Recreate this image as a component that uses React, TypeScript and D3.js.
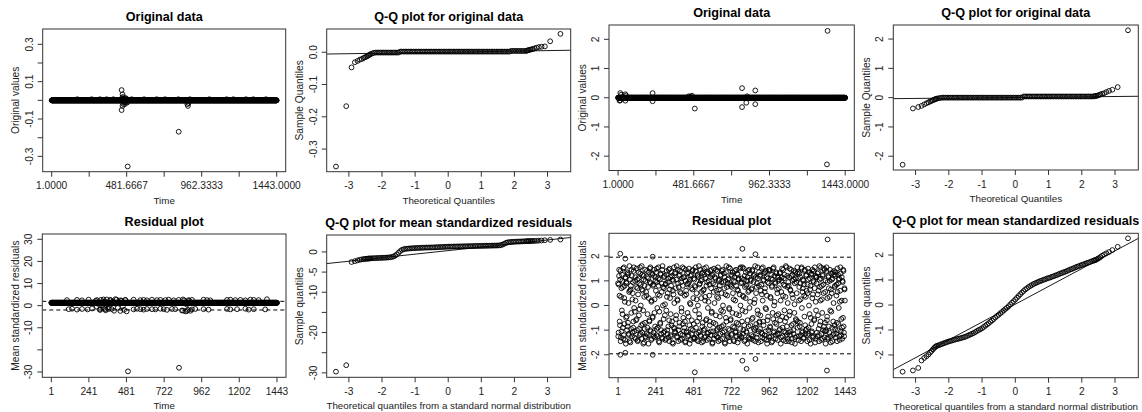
import React, { useEffect, useRef } from 'react'
import * as d3 from 'd3'

// ---- shared axes ----
const timeIndex = d3.range(1, 1444) // observations 1..1443
const origTicks = [1, 241.3333, 481.6667, 722, 962.3333, 1202.6667, 1443]
const origTickLabels = ['1.0000', '', '481.6667', '', '962.3333', '', '1443.0000']
const residTicks = [1, 241, 481, 722, 962, 1202, 1443]
const residTickLabels = ['1', '241', '481', '722', '962', '1202', '1443']
const qqTicks = [-3, -2, -1, 0, 1, 2, 3]

// theoretical normal quantiles used on every Q-Q plot (tails, then the dense middle)
const qqTheo = [
  -3.39, -3.08, -2.92, -2.82, -2.74, -2.67, -2.61, -2.56, -2.52, -2.48, -2.44, -2.41, -2.38,
  -2.35, -2.3, -2.25, -2.2, -2.15, -2.1, -2.05, -2, -1.95, -1.9, -1.85, -1.8, -1.75, -1.7, -1.65, -1.6,
  -1.55, -1.5, -1.45, -1.4, -1.35, -1.3, -1.25, -1.2, -1.15, -1.1, -1.05, -1, -0.95, -0.9, -0.85, -0.8,
  -0.75, -0.7, -0.65, -0.6, -0.55, -0.5, -0.45, -0.4, -0.35, -0.3, -0.25, -0.2, -0.15, -0.1, -0.05, 0,
  0.05, 0.1, 0.15, 0.2, 0.25, 0.3, 0.35, 0.4, 0.45, 0.5, 0.55, 0.6, 0.65, 0.7, 0.75, 0.8, 0.85, 0.9,
  0.95, 1, 1.05, 1.1, 1.15, 1.2, 1.25, 1.3, 1.35, 1.4, 1.45, 1.5, 1.55, 1.6, 1.65, 1.7, 1.75, 1.8,
  1.85, 1.9, 1.95, 2, 2.05, 2.1, 2.15, 2.2, 2.25, 2.3, 2.35,
  2.38, 2.41, 2.44, 2.48, 2.52, 2.56, 2.61, 2.67, 2.74, 2.82, 2.92, 3.08, 3.39,
]

// ---- series 1 (left figure) ----
const orig1Level = 0
const orig1ExtraT = [449, 449, 452, 455, 455, 458, 460, 462, 466, 470, 475, 478, 481, 485, 488, 815, 870, 874, 878,
  165, 257, 310, 353, 396, 514, 593, 674, 727, 812, 887, 1011, 1122, 1165, 1246, 1293, 1374]
const orig1ExtraV = [0.055, -0.052, 0.012, 0.032, -0.03, 0.018, -0.02, 0.01, -0.01, -0.02, 0.012, -0.008, 0.008, -0.012, -0.354, -0.168, -0.02, -0.03, -0.015,
  0.006, 0.006, 0.006, 0.006, 0.006, 0.006, 0.006, 0.006, 0.006, 0.006, 0.006, 0.006, 0.006, 0.006, 0.006, 0.006, 0.006]

const qq1Sample = [
  -0.354, -0.167, -0.047, -0.031, -0.027, -0.023, -0.021, -0.018, -0.016, -0.014, -0.012, -0.01, -0.008,
  -0.006, -0.004, -0.002,
  -0.001, -0.001, -0.001, -0.001, -0.001, -0.001, -0.001, -0.001, -0.001, -0.001, -0.001, -0.001, -0.001, -0.001, -0.001,
  0.002, 0.002, 0.002, 0.002, 0.002, 0.002, 0.002, 0.002, 0.002, 0.002, 0.002, 0.002, 0.002, 0.002, 0.002, 0.002, 0.002,
  0.002, 0.002, 0.002, 0.002, 0.002, 0.002, 0.002, 0.002, 0.002, 0.002, 0.002, 0.002, 0.002, 0.002, 0.002, 0.002, 0.002,
  0.002, 0.002, 0.002, 0.002, 0.002, 0.002, 0.002, 0.002, 0.002, 0.002, 0.002, 0.002, 0.002, 0.002, 0.002, 0.002, 0.002,
  0.002, 0.002, 0.002, 0.002, 0.002, 0.002, 0.002, 0.002, 0.002, 0.002, 0.002, 0.002, 0.002, 0.002, 0.002, 0.002,
  0.004, 0.004, 0.004, 0.004, 0.004, 0.004, 0.004, 0.004, 0.004, 0.004,
  0.005, 0.006, 0.007, 0.008, 0.009, 0.01, 0.012, 0.014, 0.016, 0.017, 0.018, 0.034, 0.057,
]
const qq1Line = [0.0003, 0.0016] // intercept, slope

const resid1Level = 1.3
const resid1ExtraT = [
  101, 165, 197, 239, 293, 335, 378, 410, 442, 474, 527, 570, 591, 612, 644, 676, 698, 730, 751, 783, 815, 842, 878, 900, 974, 996, 1017, 1124, 1145, 1177, 1209, 1241, 1273, 1295, 1326, 1379,
  112, 133, 165, 197, 233, 261, 314, 346, 367, 527, 549, 570, 591, 612, 644, 666, 698, 719, 740, 772, 793, 836, 868, 900, 921, 974, 1006, 1124, 1145, 1188, 1241, 1262, 1295, 1368,
  285, 292, 300, 310, 318, 325, 332, 340, 348, 355, 362, 370, 378, 386, 394, 402, 410, 418, 426, 434, 442, 450, 458, 466, 474, 482,
  842, 850, 858, 866, 874, 882, 890,
  491, 817,
]
const resid1ExtraV = [
  2.5, 2.6, 2.4, 2.7, 2.5, 2.8, 2.6, 2.9, 2.4, 2.6, 2.7, 2.5, 2.6, 2.4, 2.7, 2.5, 2.6, 2.5, 2.7, 2.4, 2.6, 2.8, 2.5, 2.6, 2.7, 2.5, 2.4, 2.6, 2.7, 2.5, 2.6, 2.4, 2.7, 2.6, 2.5, 2.9,
  -1.6, -1.4, -1.8, -1.5, -1.7, -1.3, -1.9, -1.6, -1.5, -1.7, -1.4, -1.6, -1.8, -1.5, -1.6, -1.7, -1.4, -1.6, -1.9, -1.5, -1.6, -2.2, -2.4, -1.7, -1.5, -1.6, -1.8, -1.5, -1.7, -1.6, -1.4, -1.8, -1.6, -1.7,
  2.2, -0.5, 0.8, -1.8, 2.6, 0.2, -1.2, 1.9, -2.1, 2.8, 0.5, -0.8, 2.4, -1.5, 1.8, -2.3, 0.9, 2.7, -1.0, 1.5, -2.4, 2.2, -0.3, -1.9, 2.5, -2.6,
  -2.2, 2.4, -2.6, 0.5, -1.9, 2.2, -2.3,
  -29.7, -28.1,
]

const qq3Sample = [
  -29.7, -28.1, -2.5, -2.3, -2.1, -1.95, -1.85, -1.8, -1.75, -1.7, -1.68, -1.65, -1.62,
  -1.6, -1.58, -1.56, -1.54, -1.52, -1.5, -1.48, -1.46, -1.44, -1.42, -1.4, -1.37, -1.33, -1.25, -1.12, -0.9, -0.6, -0.2, 0.2, 0.5, 0.65, 0.75,
  0.8, 0.84, 0.87, 0.9, 0.93, 0.95,
  0.97, 0.99, 1.01, 1.03, 1.05, 1.07, 1.08, 1.09, 1.1, 1.11,
  1.12, 1.14, 1.16, 1.18, 1.2, 1.22, 1.24, 1.26, 1.28, 1.3,
  1.31, 1.32, 1.33, 1.34, 1.35, 1.36, 1.37, 1.38, 1.39, 1.4,
  1.41, 1.42, 1.43, 1.44, 1.45, 1.46, 1.47, 1.48, 1.49, 1.5,
  1.51, 1.52, 1.53, 1.54, 1.55, 1.56, 1.57, 1.58, 1.59, 1.6,
  1.64, 1.7, 1.85, 2.05, 2.25, 2.38, 2.44, 2.48, 2.51, 2.53,
  2.55, 2.57, 2.58, 2.6, 2.61, 2.63, 2.64,
  2.66, 2.67, 2.68, 2.7, 2.71, 2.72, 2.74, 2.76, 2.79, 2.84, 2.9, 2.98, 3.08,
]
const qq3Line = [0.33, 0.878]

// ---- series 2 (right figure) ----
const orig2Level = 0
const orig2ExtraT = [10, 15, 15, 20, 47, 47, 52, 220, 220, 449, 460, 470, 488, 788, 788, 815, 820, 872, 872, 1331, 1327]
const orig2ExtraV = [-0.1, 0.16, -0.09, 0.1, 0.12, -0.1, 0.08, 0.16, -0.12, 0.05, 0.04, 0.07, -0.37, 0.33, -0.32, -0.17, 0.05, 0.25, -0.22, 2.29, -2.28]

const qq2Sample = [
  -2.29, -0.37, -0.32, -0.28, -0.23, -0.19, -0.16, -0.13, -0.11, -0.09, -0.07, -0.05, -0.04,
  -0.03, -0.02, -0.01,
  0, 0, 0, 0, 0, 0, 0, 0, 0, 0, 0, 0, 0, 0, 0, 0, 0, 0, 0, 0, 0, 0, 0, 0, 0,
  0, 0, 0, 0, 0, 0, 0, 0, 0, 0, 0, 0, 0, 0, 0, 0, 0, 0, 0, 0, 0, 0, 0, 0,
  0.04, 0.04, 0.04, 0.04, 0.04, 0.04, 0.04, 0.04, 0.04, 0.04, 0.04, 0.04, 0.04, 0.04, 0.04, 0.04, 0.04, 0.04, 0.04, 0.04, 0.04, 0.04,
  0.04, 0.04, 0.04, 0.04, 0.04, 0.04, 0.04, 0.04, 0.04, 0.04, 0.04, 0.04, 0.04, 0.04, 0.04, 0.04, 0.04, 0.04, 0.04, 0.04, 0.04,
  0.05, 0.055, 0.06, 0.07, 0.09, 0.11, 0.13, 0.15, 0.19, 0.23, 0.27, 0.36, 2.3,
]
const qq2Line = [0.006, 0.011]

// residuals of series 2: observations 1, 4, 7, ... and 2, 5, 8, ...
const resid2Step = 3
const resid2ValuesA = [
  0.9, -1.1, 1.2, 0.4, -0.8, 1.4, -1.3, 0.7, -0.2, 1.0, -0.9, 1.5, -1.2, 0.3, 0.8, -1.4, 1.1, -0.5, 0.9, -1.0,
  1.3, -0.7, 0.1, -1.2, 1.6, 0.6, -1.5, 0.8, -0.3, 1.2, -1.1, 0.5, -0.9, 1.4, -0.1, -1.3, 1.0, 0.2, -0.6, 1.5,
  -1.0, 0.7, -1.4, 1.1, -0.4, 0.9, -1.2, 1.3, 0.0, -0.8, 1.6, -1.1, 0.6, -0.2, 1.2, -1.5, 0.8, -0.7, 1.0, -1.3,
  0.4, 1.4, -0.9, -1.2, 1.1, 0.3, -0.6, 1.5, -1.0, 0.9, -1.4, 0.2, 1.3, -0.5, 0.8, -1.1, 1.2, -0.3, -1.3, 1.0,
  0.6, -1.2, 1.5, -0.1, -0.9, 1.1, 0.8, -1.5, 0.4, -0.7, 1.3, -1.0, 0.9, -1.3, 1.6, 0.0, -1.1, 0.7, 1.2, -0.4,
  -1.4, 0.9, -0.2, 1.4, -1.0, 0.5, 1.1, -1.3, -0.6, 1.5, 0.3, -1.2, 0.8, -0.8, 1.2, -1.5, 0.6, 1.0, -0.9, 0.1,
  1.3, -1.1, 0.7, -0.4, 1.6, -1.3, 0.2, 0.9, -1.0, 1.2, -0.7, 1.4, -1.4, 0.5, -0.1, 1.1, -1.2, 0.8, -0.5, 1.5,
  -0.9, 0.4, -1.5, 1.0, 0.6, -1.1, 1.3, -0.3, 0.9, -1.2, 1.5, -0.8, 0.1, 1.2, -1.4, 0.7, -0.6, 1.4, -1.0, 0.3,
  1.1, -1.3, 0.8, -0.2, 1.4, -0.9, 0.5, -1.4, 1.2, 0.0, -1.1, 1.6, -0.5, 0.9, -1.2, 1.0, 0.3, -1.5, 1.3, -0.7,
  0.6, -1.0, 1.5, -1.3, 0.2, 1.1, -0.6, 0.8, -1.4, 1.3, -0.1, -1.1, 1.0, 0.4, -0.8, 1.4, -1.2, 0.7, -0.3, 1.2,
  -1.5, 0.9, -0.7, 1.5, 0.1, -1.2, 1.1, -0.4, 0.6, -1.0, 1.4, -1.3, 0.3, 1.0, -0.9, 0.8, -1.4, 1.2, -0.2, 0.5,
  1.4, -1.1, 0.0, -0.8, 1.3, 0.7, -1.5, 1.0, -0.5, 1.6, -1.2, 0.4, 0.9, -1.3, 1.1, -0.1, -1.0, 1.5, -0.6, 0.8,
  -1.2, 1.2, -0.3, 0.5, -1.4, 1.0, -0.9, 1.4, 0.2, -1.1, 0.8, -0.7, 1.3, -1.5, 0.6, 1.1, -0.4, -1.2, 1.5, 0.0,
  0.9, -1.3, 1.1, -0.2, 0.4, -1.0, 1.5, -0.8, 1.2, -1.4, 0.3, 0.8, -1.1, 1.0, -0.6, 1.4, -1.3, 0.6, -0.1, 1.3,
  -0.8, 1.0, -1.2, 0.7, 1.4, -0.5, -1.4, 1.2, 0.1, -1.0, 1.6, -0.9, 0.5, -1.3, 0.9, -0.2, 1.1, -1.5, 0.8, -0.7,
  1.2, -0.4, 0.6, -1.1, 1.5, -1.3, 0.2, 1.0, -0.8, 1.3, -1.2, 0.7, -0.1, 1.4, -1.4, 0.4, -0.6, 1.1, -1.0, 0.9,
  -1.3, 1.4, -0.9, 0.3, 1.1, -1.5, 0.8, -0.3, 1.5, -1.1, 0.0, 1.2, -0.7, 0.9, -1.2, 1.3, -0.4, 0.5, -1.4, 1.0,
  0.7, -1.0, 1.3, -0.6, 0.2, -1.3, 1.0, 1.5, -0.9, 0.4, -1.4, 1.1, -0.2, 0.8, -1.1, 1.6, -0.5, -1.2, 1.2, 0.1,
  -1.1, 0.8, -0.4, 1.5, -1.2, 0.6, 1.2, -0.8, -1.5, 1.0, 0.3, -1.0, 1.4, -0.3, 0.9, -1.3, 1.1, -0.6, 0.5, 1.3,
  -0.9, 1.1, -1.4, 0.2, 1.3, -0.7, 0.9, -1.2, 1.5, -0.1, -1.1, 0.7, 1.0, -1.3, 0.4, 1.4, -0.8, -1.0, 1.2, 0.6,
  -1.2, 0.5, 1.5, -0.9, 0.0, -1.4, 1.1, 0.8, -0.5, 1.3, -1.1, 0.3, -1.3, 1.0, 1.4, -0.6, 0.7, -1.5, 1.2, -0.2,
  0.9, -1.1, 1.3, -0.4, 0.6, -1.2, 1.6, -0.8, 0.2, 1.1, -1.4, 0.8, -0.3, 1.2, -1.0, 0.5, 1.5, -1.3, -0.7, 1.0,
  -1.0, 1.4, -0.6, 0.3, -1.3, 1.2, 0.7, -1.1, 1.0, -0.2, -1.5, 1.3, 0.5, -0.9, 1.1, -1.2, 0.1, 1.4, -0.8, 0.8,
  1.2, -1.3, 0.4, -0.7, 1.5, -1.0, 0.9, -0.1, 1.1, -1.4, 0.6, 1.3, -1.2, 0.2, -0.9, 1.0, -0.5, 1.4, -1.1, 0.7,
  0.2,
]
const resid2ValuesB = [
  -1.25, 0.85, 1.45, -0.65, 1.05, -1.45, 0.35, -1.05, 1.25, -0.35, 0.75, -1.35, 1.55, -0.75, 0.15, 1.15, -1.55, 0.95, -0.45, 1.35,
  -0.85, 1.25, -1.15, 0.55, -1.45, 1.05, 0.65, -0.95, 1.45, -1.25, 0.25, 0.95, -0.65, 1.55, -1.05, -0.25, 1.15, -1.35, 0.75, -0.55,
  1.05, -1.45, 0.45, 1.35, -0.95, -0.15, 1.55, -1.15, 0.85, -1.35, 0.65, 1.25, -0.75, -1.55, 1.05, 0.35, -0.95, 1.45, -1.25, 0.55,
  -1.15, 1.15, -0.35, 0.75, -1.55, 1.35, -0.65, 0.95, 1.55, -1.05, 0.15, -1.35, 1.25, -0.45, 0.85, -1.25, 1.45, 0.25, -0.85, 1.15,
  1.35, -0.95, 0.95, -1.25, 0.45, 1.55, -1.45, -0.25, 1.05, -0.75, 1.25, -1.15, 0.55, 1.45, -1.35, 0.75, -0.55, 1.15, -1.05, 0.05,
  0.85, -1.35, 1.25, 0.35, -1.15, 0.95, -0.85, 1.45, -1.45, 0.65, 1.15, -0.35, -1.25, 1.35, -0.65, 1.05, -1.55, 0.45, 1.55, -0.95,
  -1.05, 1.35, -0.55, 1.05, -1.25, 0.25, 1.45, -1.45, 0.75, -0.85, 1.25, 0.55, -1.15, 0.95, -0.25, -1.35, 1.55, -0.75, 1.15, -1.05,
  1.15, -0.65, -1.45, 1.45, 0.45, -1.05, 0.85, -1.25, 1.35, -0.45, 0.95, -1.55, 1.05, 0.05, -0.95, 1.25, -1.15, 0.65, 1.45, -1.35,
  -0.75, 1.05, -1.35, 0.75, 1.55, -1.15, 0.25, -0.65, 1.25, -1.45, 1.15, -0.35, 0.85, -1.05, 1.45, -1.25, 0.55, 1.05, -0.85, 1.35,
  -1.45, 0.65, 1.25, -0.95, 0.35, -1.25, 1.55, -0.55, 0.95, -1.15, 1.35, 0.15, -1.35, 0.85, -0.65, 1.15, -1.05, 1.45, -0.25, -1.55,
  1.25, -1.05, 0.55, -1.35, 1.15, 0.85, -0.75, 1.45, -1.25, 0.35, -0.95, 1.55, -1.45, 0.65, 1.05, -0.45, -1.15, 1.25, 0.95, -0.85,
  -1.35, 1.45, -0.25, 0.95, -1.05, 1.15, -1.55, 0.45, 1.35, -0.65, 0.75, -1.25, 1.05, -0.95, 1.55, -0.15, -1.45, 0.85, -0.55, 1.25,
  0.75, -1.15, 1.35, -0.85, 0.25, -1.45, 1.15, 0.95, -1.05, 1.45, -0.35, -1.25, 0.65, 1.25, -0.75, 1.05, -1.35, 0.45, -0.95, 1.55,
  -1.25, 0.95, -0.65, 1.55, -1.15, 0.35, 1.05, -1.45, 0.75, -0.25, 1.35, -1.05, 0.85, -1.55, 1.15, 0.55, -0.85, 1.45, -1.35, 0.15,
  1.05, -1.35, 0.65, -0.55, 1.45, -1.25, 0.95, -0.95, 1.25, 0.25, -1.45, 1.15, -0.75, 0.75, -1.15, 1.55, -0.35, -1.05, 1.35, -0.65,
  -0.95, 1.25, -1.45, 0.85, 0.45, -1.15, 1.55, -0.65, 1.05, -1.35, 0.55, 1.35, -1.05, -0.15, 1.15, -1.55, 0.95, -0.45, 1.45, -1.25,
  1.45, -0.85, 0.35, -1.25, 1.25, 0.75, -1.45, 1.05, -0.55, 1.55, -1.05, 0.15, 0.95, -1.35, 1.35, -0.75, 0.65, -1.15, 1.15, -0.35,
  -1.15, 1.05, -0.95, 1.35, -1.55, 0.55, 1.15, -0.45, -1.25, 1.45, 0.85, -1.05, 1.25, -0.65, 0.35, -1.45, 1.55, -0.85, 0.75, -1.35,
  0.95, -1.45, 1.15, -0.25, 0.65, -1.05, 1.45, -1.35, 0.45, 1.25, -0.75, -1.15, 1.05, 0.05, -1.55, 1.35, -0.55, 0.95, -1.25, 1.55,
  -0.65, 1.35, -1.25, 0.75, -0.85, 1.15, 0.25, -1.45, 1.55, -1.05, 0.55, 1.05, -1.35, 0.85, -0.45, 1.45, -1.15, 0.35, 1.25, -0.95,
  -1.45, 0.85, 1.05, -1.15, 1.35, -0.35, 0.65, -1.55, 1.25, -0.75, -1.05, 1.45, 0.45, -1.25, 0.95, -0.55, 1.55, -1.35, 0.15, 1.15,
  1.15, -1.25, 0.45, 1.35, -0.95, -1.45, 1.05, 0.75, -0.65, 1.55, -1.15, 0.25, -1.35, 1.25, 0.85, -0.85, 1.45, -1.05, 0.55, -1.55,
  -1.05, 1.55, -0.45, 0.95, -1.35, 1.15, -0.85, 0.35, 1.45, -1.25, 0.65, -0.25, 1.05, -1.45, 1.35, -0.65, -1.15, 1.25, 0.75, -0.95,
  1.35, -1.15, 0.85, -1.45, 0.55, 1.25, -0.75, 1.05, -1.25, 0.15, 1.55, -1.05, -0.55, 1.15, -1.35, 0.95, 1.45, -0.85, -1.25, 0.65,
]
const resid2OutT = [15, 15, 47, 47, 221, 221, 488, 790, 790, 817, 873, 873, 1331, 1327]
const resid2OutV = [2.1, -2.0, 1.9, -1.92, 1.98, -2.0, -2.71, 2.3, -2.24, -2.57, -2.17, 2.08, 2.68, -2.64]

const qq4Sample = [
  -2.67, -2.62, -2.52, -2.22, -2.12, -2.05, -1.98, -1.9, -1.84, -1.78, -1.72, -1.68, -1.65,
  -1.63, -1.61, -1.58, -1.56, -1.53, -1.51, -1.48, -1.46,
  -1.44, -1.42, -1.4, -1.38, -1.36, -1.35, -1.33, -1.31, -1.29, -1.27,
  -1.24, -1.21, -1.18, -1.15, -1.12, -1.08,
  -1.04, -1.0, -0.97, -0.93, -0.88, -0.83, -0.78, -0.73, -0.67, -0.62, -0.56, -0.5,
  -0.44, -0.39, -0.33, -0.28, -0.22, -0.16, -0.11, -0.05, 0.02, 0.09, 0.15, 0.22,
  0.29, 0.36, 0.43, 0.5, 0.56, 0.62, 0.67, 0.72, 0.76, 0.8, 0.84, 0.87,
  0.9, 0.93, 0.96, 0.98, 1.01, 1.03, 1.06, 1.08, 1.1, 1.13, 1.15, 1.18,
  1.2, 1.23, 1.26, 1.28, 1.31, 1.33, 1.36, 1.39, 1.42, 1.44, 1.47, 1.5,
  1.53, 1.55, 1.58, 1.6, 1.63, 1.65, 1.68, 1.7, 1.72, 1.75, 1.77,
  1.79, 1.8, 1.82, 1.85, 1.88, 1.92, 1.97, 2.02, 2.07, 2.12, 2.2, 2.33, 2.67,
]
const qq4Line = [0.03, 0.713]

const FONT = '"Liberation Sans", Arial, Helvetica, sans-serif'
const TEXT = '#222'

type Panel = {
  box: number[] // x0, y0, x1, y1
  xDomain: number[]
  yDomain: number[]
  xTicks: number[]
  xLabels: string[]
  yTicks: number[]
  yLabels: string[]
  title: string
  xTitle: string
  yTitle: string
  pts: number[][]
  hlines?: number[]
  abline?: number[]
}

const levelPts = (level: number, ts: number[], vs: number[]) =>
  timeIndex.map((t) => [t, level]).concat(ts.map((t, i) => [t, vs[i]]))
const qqPts = (sample: number[]) => qqTheo.map((q, i) => [q, sample[i]])
const timeDomain = [1 - 0.04 * 1442, 1443 + 0.04 * 1442]
const qqDomain = [-3.67, 3.7]

function drawPanel(svg: any, p: Panel, idx: number) {
  const [x0, y0, x1, y1] = p.box
  const x = d3.scaleLinear().domain(p.xDomain).range([x0, x1])
  const y = d3.scaleLinear().domain(p.yDomain).range([y1, y0])
  const g = svg.append('g')
  const clipId = 'clip' + idx
  g.append('clipPath').attr('id', clipId).append('rect')
    .attr('x', x0).attr('y', y0).attr('width', x1 - x0).attr('height', y1 - y0)

  const plot = g.append('g').attr('clip-path', `url(#${clipId})`)
  if (p.hlines) {
    plot.selectAll('line.h').data(p.hlines).enter().append('line')
      .attr('x1', x0).attr('x2', x1)
      .attr('y1', (d: number) => y(d)).attr('y2', (d: number) => y(d))
      .attr('stroke', '#000').attr('stroke-width', 1).attr('stroke-dasharray', '4,3')
  }
  plot.selectAll('circle').data(p.pts).enter().append('circle')
    .attr('cx', (d: number[]) => x(d[0]))
    .attr('cy', (d: number[]) => y(d[1]))
    .attr('r', 2.4)
    .attr('fill', 'none')
    .attr('stroke', '#000')
    .attr('stroke-width', 0.9)
  if (p.abline) {
    const [a, b] = p.abline
    plot.append('line')
      .attr('x1', x(p.xDomain[0])).attr('y1', y(a + b * p.xDomain[0]))
      .attr('x2', x(p.xDomain[1])).attr('y2', y(a + b * p.xDomain[1]))
      .attr('stroke', '#000').attr('stroke-width', 0.9)
  }

  // box
  g.append('rect').attr('x', x0).attr('y', y0).attr('width', x1 - x0).attr('height', y1 - y0)
    .attr('fill', 'none').attr('stroke', '#333').attr('stroke-width', 1)

  // x axis
  const xa = g.append('g')
  xa.selectAll('line').data(p.xTicks).enter().append('line')
    .attr('x1', (d: number) => x(d)).attr('x2', (d: number) => x(d))
    .attr('y1', y1).attr('y2', y1 + 5).attr('stroke', '#333')
  xa.selectAll('text').data(p.xTicks).enter().append('text')
    .attr('x', (d: number) => x(d)).attr('y', y1 + 14)
    .attr('text-anchor', 'middle').attr('dominant-baseline', 'central')
    .style('font-family', FONT).style('font-size', '10.2px').attr('fill', TEXT)
    .text((_: number, i: number) => p.xLabels[i])

  // y axis
  const ya = g.append('g')
  ya.selectAll('line').data(p.yTicks).enter().append('line')
    .attr('x1', x0 - 5).attr('x2', x0)
    .attr('y1', (d: number) => y(d)).attr('y2', (d: number) => y(d)).attr('stroke', '#333')
  ya.selectAll('text').data(p.yTicks).enter().append('text')
    .attr('transform', (d: number) => `translate(${x0 - 13.5},${y(d)}) rotate(-90)`)
    .attr('text-anchor', 'middle').attr('dominant-baseline', 'central')
    .style('font-family', FONT).style('font-size', '10.2px').attr('fill', TEXT)
    .text((_: number, i: number) => p.yLabels[i])

  // titles
  g.append('text').attr('x', (x0 + x1) / 2).attr('y', y0 - 12)
    .attr('text-anchor', 'middle').attr('dominant-baseline', 'central')
    .style('font-family', FONT).style('font-size', '12.6px').style('font-weight', 'bold')
    .attr('fill', '#000').text(p.title)
  g.append('text').attr('x', (x0 + x1) / 2).attr('y', y1 + 28.5)
    .attr('text-anchor', 'middle').attr('dominant-baseline', 'central')
    .style('font-family', FONT).style('font-size', '9.8px').attr('fill', TEXT).text(p.xTitle)
  g.append('text')
    .attr('transform', `translate(${x0 - 27},${(y0 + y1) / 2}) rotate(-90)`)
    .attr('text-anchor', 'middle').attr('dominant-baseline', 'central')
    .style('font-family', FONT).style('font-size', '10.2px').attr('fill', TEXT).text(p.yTitle)
}

export default function App() {
  const ref = useRef<SVGSVGElement>(null)

  useEffect(() => {
    const svg = d3.select(ref.current)
    svg.selectAll('*').remove()

    const resid2Pts = resid2ValuesA.map((v, i) => [1 + i * resid2Step, v])
      .concat(resid2ValuesB.map((v, i) => [2 + i * resid2Step, v]))
      .concat(resid2OutT.map((t, i) => [t, resid2OutV[i]]))

    const panels: Panel[] = [
      {
        box: [42.7, 29, 285.7, 171.7], xDomain: timeDomain, yDomain: [-0.382, 0.382],
        xTicks: origTicks, xLabels: origTickLabels,
        yTicks: [-0.3, -0.2, -0.1, 0, 0.1, 0.2, 0.3], yLabels: ['-0.3', '', '-0.1', '', '0.1', '', '0.3'],
        title: 'Original data', xTitle: 'Time', yTitle: 'Original values',
        pts: levelPts(orig1Level, orig1ExtraT, orig1ExtraV),
      },
      {
        box: [326.7, 29, 570.7, 171.7], xDomain: qqDomain, yDomain: [-0.37, 0.072],
        xTicks: qqTicks, xLabels: qqTicks.map(String),
        yTicks: [-0.3, -0.2, -0.1, 0], yLabels: ['-0.3', '-0.2', '-0.1', '0.0'],
        title: 'Q-Q plot for original data', xTitle: 'Theoretical Quantiles', yTitle: 'Sample Quantiles',
        pts: qqPts(qq1Sample), abline: qq1Line,
      },
      {
        box: [609, 25, 854.3, 170.5], xDomain: timeDomain, yDomain: [-2.49, 2.49],
        xTicks: origTicks, xLabels: origTickLabels,
        yTicks: [-2, -1, 0, 1, 2], yLabels: ['-2', '-1', '0', '1', '2'],
        title: 'Original data', xTitle: 'Time', yTitle: 'Original values',
        pts: levelPts(orig2Level, orig2ExtraT, orig2ExtraV),
      },
      {
        box: [893.3, 25, 1138.3, 170], xDomain: qqDomain, yDomain: [-2.47, 2.48],
        xTicks: qqTicks, xLabels: qqTicks.map(String),
        yTicks: [-2, -1, 0, 1, 2], yLabels: ['-2', '-1', '0', '1', '2'],
        title: 'Q-Q plot for original data', xTitle: 'Theoretical Quantiles', yTitle: 'Sample Quantiles',
        pts: qqPts(qq2Sample), abline: qq2Line,
      },
      {
        box: [42.3, 234, 286, 377.3], xDomain: timeDomain, yDomain: [-32.4, 32.4],
        xTicks: residTicks, xLabels: residTickLabels,
        yTicks: [-30, -20, -10, 0, 10, 20, 30], yLabels: ['-30', '', '-10', '0', '10', '20', '30'],
        title: 'Residual plot', xTitle: 'Time', yTitle: 'Mean standardized residuals',
        pts: levelPts(resid1Level, resid1ExtraT, resid1ExtraV), hlines: [1.96, -1.96],
      },
      {
        box: [326.7, 235, 570.7, 377.3], xDomain: qqDomain, yDomain: [-31.1, 4.2],
        xTicks: qqTicks, xLabels: qqTicks.map(String),
        yTicks: [-30, -25, -20, -15, -10, -5, 0], yLabels: ['-30', '', '-20', '', '-10', '-5', '0'],
        title: 'Q-Q plot for mean standardized residuals',
        xTitle: 'Theoretical quantiles from a standard normal distribution', yTitle: 'Sample quantiles',
        pts: qqPts(qq3Sample), abline: qq3Line,
      },
      {
        box: [609, 233.3, 854.3, 377.7], xDomain: timeDomain, yDomain: [-2.93, 2.93],
        xTicks: residTicks, xLabels: residTickLabels,
        yTicks: [-2, -1, 0, 1, 2], yLabels: ['-2', '-1', '0', '1', '2'],
        title: 'Residual plot', xTitle: 'Time', yTitle: 'Mean standardized residuals',
        pts: resid2Pts, hlines: [1.96, -1.96],
      },
      {
        box: [893.3, 233.3, 1138.3, 377.7], xDomain: qqDomain, yDomain: [-2.91, 2.87],
        xTicks: qqTicks, xLabels: qqTicks.map(String),
        yTicks: [-2, -1, 0, 1, 2], yLabels: ['-2', '-1', '0', '1', '2'],
        title: 'Q-Q plot for mean standardized residuals',
        xTitle: 'Theoretical quantiles from a standard normal distribution', yTitle: 'Sample quantiles',
        pts: qqPts(qq4Sample), abline: qq4Line,
      },
    ]
    panels.forEach((p, i) => drawPanel(svg, p, i))
  }, [])

  return (
    <div style={{ position: 'absolute', left: 0, top: 0, background: '#fff' }}>
      <svg ref={ref} width={1142} height={412} style={{ display: 'block' }} />
    </div>
  )
}
